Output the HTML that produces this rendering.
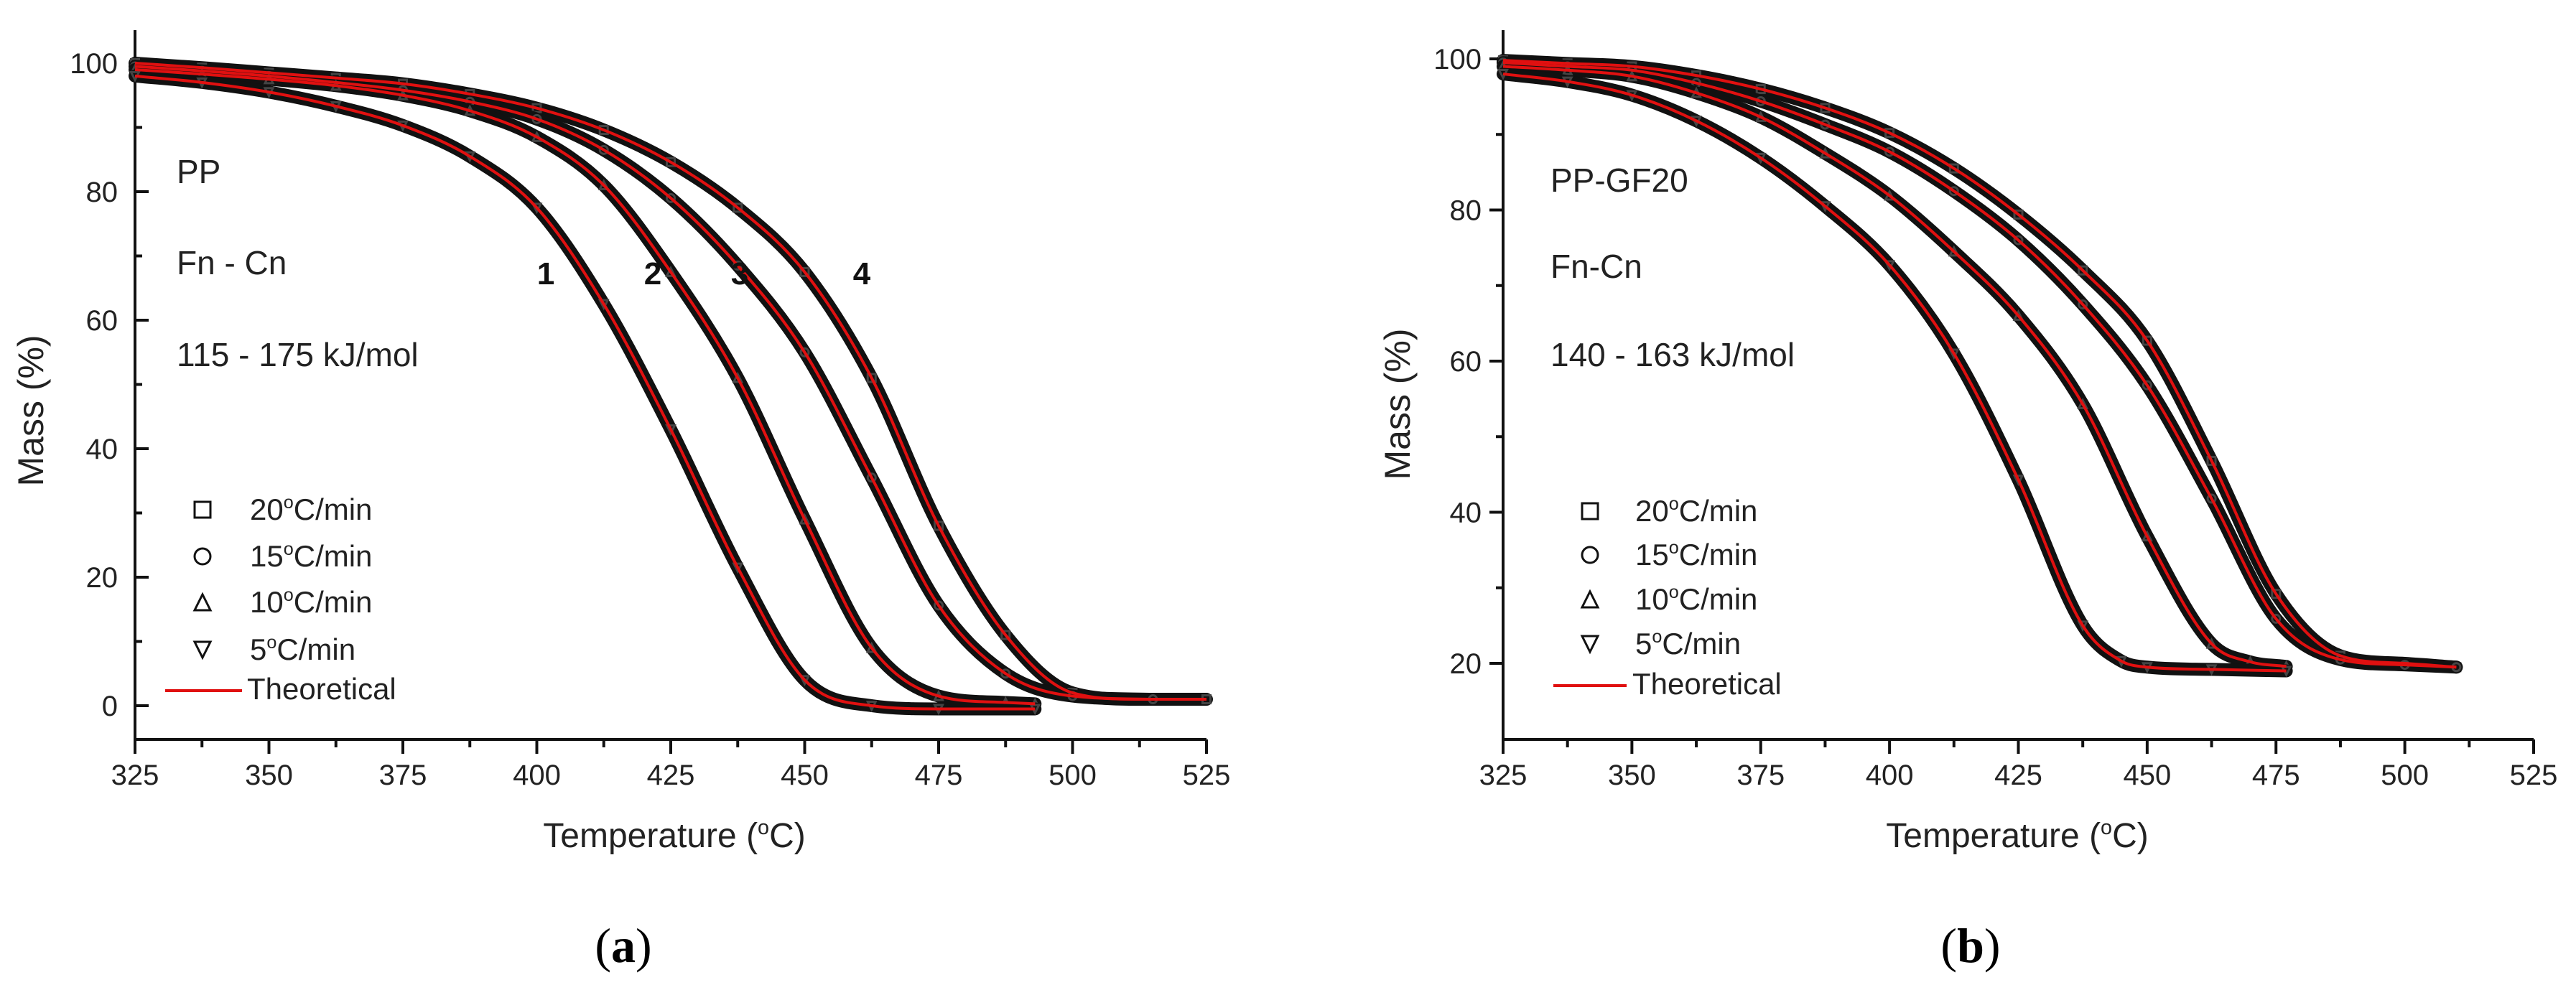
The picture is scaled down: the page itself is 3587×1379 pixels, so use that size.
<!DOCTYPE html>
<html><head><meta charset="utf-8"><style>
html,body{margin:0;padding:0;background:#fff;}
svg{display:block;font-family:"Liberation Sans",Arial,sans-serif;}
</style></head><body>
<svg id="fig" width="3587" height="1379" viewBox="0 0 3587 1379" xmlns="http://www.w3.org/2000/svg"></svg>
<script>
// ---- Panel (a) PP data ----
const aT5=[325,337.5,350,362.5,375,387.5,400,412.5,425,437.5,450,462.5,475,493];
const aM5=[98,97,95.5,93.3,90.3,85.5,77.5,62.5,43,21.5,4,0,-0.5,-0.5];
const aT10=[325,337.5,350,362.5,375,387.5,400,412.5,425,437.5,450,462.5,475,487.5,493];
const aM10=[99,98.3,97.5,96.5,95,92.6,88.5,81,67.5,51,29,9,1.5,0.5,0.3];
const aT15=[325,337.5,350,362.5,375,387.5,400,412.5,425,437.5,450,462.5,475,487.5,500,515];
const aM15=[99.5,98.8,98,97,95.8,94,91.3,86.5,79,68.5,55,35.5,15.6,5,1.5,1];
const aT20=[325,337.5,350,362.5,375,387.5,400,412.5,425,437.5,450,462.5,475,487.5,500,512.5,525];
const aM20=[100,99.3,98.5,97.7,96.8,95.2,93,89.6,84.6,77.5,67.5,51,28,11,2,1,1];
// ---- Panel (b) PP-GF20 data ----
const bT5=[325,337.5,350,362.5,375,387.5,400,412.5,425,437.5,445,450,462.5,477];
const bM5=[98,97,95.2,91.8,86.9,80.5,72.7,61,44.3,25,20.3,19.5,19.2,19];
const bT10=[325,337.5,350,362.5,375,387.5,400,412.5,425,437.5,450,462.5,470,477];
const bM10=[99,98.5,97.7,95.5,92.3,87.5,81.9,74.5,66,54.3,36.8,22.6,20.2,19.6];
const bT15=[325,337.5,350,362.5,375,387.5,400,412.5,425,437.5,450,462.5,475,487.5,500,510];
const bM15=[99.5,99,98.5,96.8,94.4,91.3,87.7,82.5,76,67.5,56.8,41.8,25.9,20.5,19.8,19.5];
const bT20=[325,337.5,350,362.5,375,387.5,400,412.5,425,437.5,450,462.5,475,487.5,500,510];
const bM20=[99.8,99.4,99,97.8,96,93.5,90.2,85.5,79.4,72,62.7,46.8,29.2,21,20,19.5];
const xTicks=[325,350,375,400,425,450,475,500,525];
const aYTicks=[0,20,40,60,80,100];
const bYTicks=[20,40,60,80,100];
const legendLabels=["20","15","10","5"];

const NS="http://www.w3.org/2000/svg";
const svg=document.getElementById('fig');
function mk(tag,attrs,parent){const e=document.createElementNS(NS,tag);for(const k in attrs)e.setAttribute(k,attrs[k]);(parent||svg).appendChild(e);return e;}

// monotone cubic (Fritsch-Carlson) path through screen points (x increasing)
function smoothPath(p){
  const n=p.length, d=[], m=[];
  for(let i=0;i<n-1;i++) d.push((p[i+1][1]-p[i][1])/(p[i+1][0]-p[i][0]));
  m[0]=d[0]; m[n-1]=d[n-2];
  for(let i=1;i<n-1;i++){ m[i]=(d[i-1]*d[i]<=0)?0:(d[i-1]+d[i])/2; }
  for(let i=0;i<n-1;i++){
    if(d[i]===0){m[i]=0;m[i+1]=0;continue;}
    const a=m[i]/d[i], b=m[i+1]/d[i], s=a*a+b*b;
    if(s>9){const t=3/Math.sqrt(s);m[i]=t*a*d[i];m[i+1]=t*b*d[i];}
  }
  let s=`M${p[0][0]},${p[0][1]}`;
  for(let i=0;i<n-1;i++){
    const h=(p[i+1][0]-p[i][0])/3;
    s+=` C${p[i][0]+h},${p[i][1]+m[i]*h} ${p[i+1][0]-h},${p[i+1][1]-m[i+1]*h} ${p[i+1][0]},${p[i+1][1]}`;
  }
  return s;
}
function marker(g,type,x,y,s,fill,stroke){
  const a={fill:fill,stroke:stroke,'stroke-width':3};
  if(type==='sq') return mk('rect',Object.assign({x:x-s/2,y:y-s/2,width:s,height:s},a),g);
  if(type==='ci') return mk('circle',Object.assign({cx:x,cy:y,r:s/2},a),g);
  if(type==='up') return mk('path',Object.assign({d:`M${x},${y-s/2} L${x+s/2},${y+s/2} L${x-s/2},${y+s/2} Z`},a),g);
  return mk('path',Object.assign({d:`M${x},${y+s/2} L${x+s/2},${y-s/2} L${x-s/2},${y-s/2} Z`},a),g);
}
function degText(parent,x,y,pre,post,size,anchor){
  const t=mk('text',{x:x,y:y,'font-size':size,fill:'#222','text-anchor':anchor||'start'},parent);
  t.appendChild(document.createTextNode(pre));
  const s=mk('tspan',{'font-size':size*0.6,dy:-size*0.38},t);s.textContent='o';
  const r=mk('tspan',{dy:size*0.38},t);r.textContent=post;
  return t;
}

function panel(cfg){
  const g=mk('g',{});
  
  
  const X=t=>cfg.x0+(t-325)*(cfg.x1-cfg.x0)/200;
  const Y=m=>cfg.y100+(100-m)*cfg.py;
  const ax=mk('path',{d:`M${cfg.x0},42 L${cfg.x0},1030 L${cfg.x1},1030`,fill:'none',stroke:'#111','stroke-width':4},g);
  
  
  for(let i=0;i<xTicks.length;i++){
    const x=X(xTicks[i]);
    mk('line',{x1:x,y1:1030,x2:x,y2:1050,stroke:'#111','stroke-width':4},g);
    if(i<xTicks.length-1){const xm=X(xTicks[i]+12.5);mk('line',{x1:xm,y1:1030,x2:xm,y2:1041,stroke:'#111','stroke-width':4},g);}
    const tl=mk('text',{x:x,y:1093,'font-size':40,'text-anchor':'middle',fill:'#222'},g);
    tl.textContent=xTicks[i];
    
    
  }
  const dir=cfg.inward?1:-1;
  for(const v of cfg.yTicks){
    const y=Y(v);
    mk('line',{x1:cfg.x0,y1:y,x2:cfg.x0+dir*19,y2:y,stroke:'#111','stroke-width':4},g);
    const ym=Y(v+10);
    if(ym>46) mk('line',{x1:cfg.x0,y1:ym,x2:cfg.x0+dir*10,y2:ym,stroke:'#111','stroke-width':4},g);
    const tl=mk('text',{x:cfg.x0-(cfg.inward?24:30),y:y+14,'font-size':40,'text-anchor':'end',fill:'#222'},g);
    tl.textContent=v;
    
    
  }
  const types=['sq','ci','up','dn'];
  cfg.series.forEach((s,k)=>{
    const pts=s.t.map((t,i)=>[X(t),Y(s.m[i])]);
    const sg=mk('g',{},g);
    
    
    mk('path',{d:smoothPath(pts),fill:'none',stroke:'#111','stroke-width':18,'stroke-linecap':'round'},sg);
    pts.forEach(p=>{
      const mm=marker(sg,types[k],p[0],p[1],11,'none','#444');
      
      
    });
  });
  cfg.series.forEach((s,k)=>{
    const pts=s.t.map((t,i)=>[X(t),Y(s.m[i])]);
    const rl=mk('path',{d:smoothPath(pts),fill:'none',stroke:'#e01010','stroke-width':4},g);
    
    
  });
  cfg.notes.forEach(n=>{
    const t=mk('text',{x:cfg.tx,y:n[1],'font-size':46,fill:'#222'},g);
    t.textContent=n[0];
    
    
  });
  const lg=mk('g',{},g);
  
  
  cfg.legY.forEach((y,k)=>{
    if(k<4){
      marker(lg,types[k],cfg.legMX,y-14,22,'#fff','#111');
      const t=degText(lg,cfg.legTX,y,legendLabels[k],'C/min',42);
      
      
    } else {
      mk('line',{x1:cfg.legLX0,y1:y-12,x2:cfg.legLX1,y2:y-12,stroke:'#e01010','stroke-width':4},lg);
      const t=mk('text',{x:cfg.legTX-4,y:y,'font-size':42,fill:'#222'},lg);
      t.textContent='Theoretical';
      
      
    }
  });
  const yt=mk('text',{x:0,y:0,'font-size':50,'text-anchor':'middle',fill:'#222',transform:`translate(${cfg.ylx},${cfg.yly}) rotate(-90)`},g);
  yt.textContent='Mass (%)';
  
  
  const xt=degText(g,cfg.xtx,1180,'Temperature (','C)',48,'middle');
  
  
  const pl=mk('text',{x:cfg.plx,y:1340,'font-size':68,'text-anchor':'middle',fill:'#000','font-family':'Liberation Serif, serif'},g);
  pl.innerHTML='(<tspan font-weight="bold">'+cfg.letter+'</tspan>)';
  
  
  return {g,X,Y};
}

const A=panel({name:'panel-a-pp',x0:188,x1:1680,y100:88,py:8.95,yTicks:aYTicks,inward:true,
  series:[{t:aT20,m:aM20},{t:aT15,m:aM15},{t:aT10,m:aM10},{t:aT5,m:aM5}],
  tx:246,notes:[['PP',255],['Fn - Cn',382],['115 - 175 kJ/mol',510]],
  legY:[724,789,853,919,974],legMX:282,legTX:348,legLX0:230,legLX1:337,
  ylx:60,yly:572,xtx:939,plx:868,letter:'a'});
[['1',760],['2',909],['3',1030],['4',1200]].forEach(c=>{
  const t=mk('text',{x:c[1],y:396,'font-size':44,'font-weight':'bold','text-anchor':'middle',fill:'#111'},A.g);
  t.textContent=c[0];
  
  
});
panel({name:'panel-b-pp-gf20',x0:2093,x1:3528,y100:82,py:10.525,yTicks:bYTicks,inward:false,
  series:[{t:bT20,m:bM20},{t:bT15,m:bM15},{t:bT10,m:bM10},{t:bT5,m:bM5}],
  tx:2159,notes:[['PP-GF20',267],['Fn-Cn',387],['140 - 163 kJ/mol',510]],
  legY:[726,787,849,911,967],legMX:2214,legTX:2277,legLX0:2163,legLX1:2265,
  ylx:1963,yly:563,xtx:2809,plx:2744,letter:'b'});
</script>
</body></html>
